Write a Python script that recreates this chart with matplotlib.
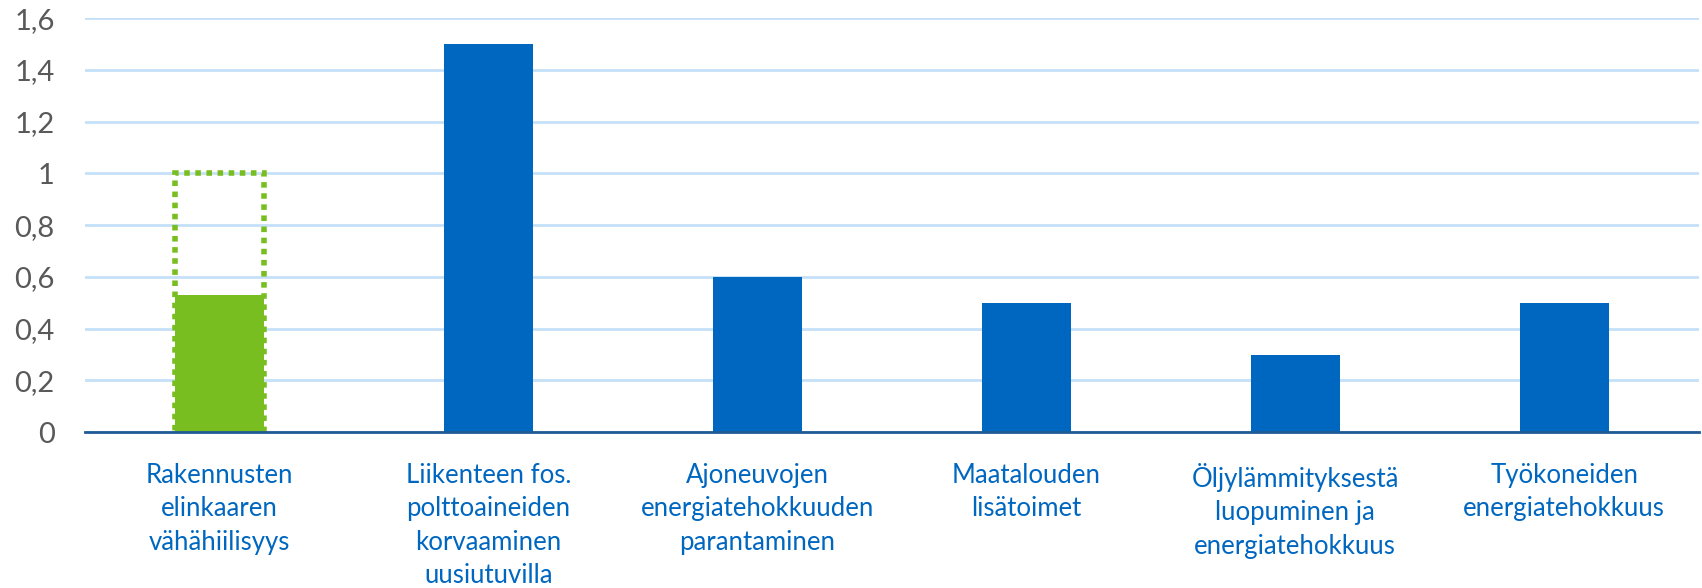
import numpy as np
import matplotlib.pyplot as plt

# tiedot
categories = ["Rakennusten\nelinkaaren\nvähähiilisyys",
              "Liikenteen fos.\npolttoaineiden\nkorvaaminen\nuusiutuvilla",
              "Ajoneuvojen\nenergiatehokkuuden\nparantaminen",
              "Maatalouden\nlisätoimet",
              "Öljylämmityksestä\nluopuminen ja\nenergiatehokkuus",
              "Työkoneiden\nenergiatehokkuus"]
values = [0.53, 1.5, 0.6, 0.5, 0.3, 0.5]
target_first = 1.0
yticks = [0, 0.2, 0.4, 0.6, 0.8, 1.0, 1.2, 1.4, 1.6]
ytick_labels = ["0", "0,2", "0,4", "0,6", "0,8", "1", "1,2", "1,4", "1,6"]

blue = "#0067C0"
green = "#78BE20"

plt.rcParams['font.family'] = ['Lato', 'DejaVu Sans']

fig = plt.figure(figsize=(17.02, 5.88), dpi=100)
ax = fig.add_axes([0.05, 0.265, 0.948, 0.704])

x = np.arange(len(categories))
w = 0.33
colors = [green] + [blue] * (len(values) - 1)

# tavoite katkoviivalla
ax.bar(x[0], target_first, width=w, fill=False, edgecolor=green,
       linestyle=(0, (1, 1)), linewidth=4, zorder=2)
ax.bar(x, values, width=w, color=colors, zorder=3)

ax.set_xlim(-0.5, len(categories) - 0.5)
ax.set_ylim(0, 1.6)
ax.set_yticks(yticks)
ax.set_yticklabels(ytick_labels, fontsize=21, color="#595959")
ax.set_xticks(x)
ax.set_xticklabels(categories, fontsize=18.5, color=blue, va="top", linespacing=1.42)
ax.tick_params(axis='both', length=0)
ax.tick_params(axis='x', pad=22)
ax.tick_params(axis='y', pad=22)

ax.yaxis.grid(True, color="#C5E0F9", linewidth=2, zorder=0)
ax.set_axisbelow(True)
for s in ["top", "right", "left"]:
    ax.spines[s].set_visible(False)
ax.spines["bottom"].set_color("#1F5A96")
ax.spines["bottom"].set_linewidth(2)
ax.spines["bottom"].set_zorder(4)

plt.savefig("out.png", dpi=100)
